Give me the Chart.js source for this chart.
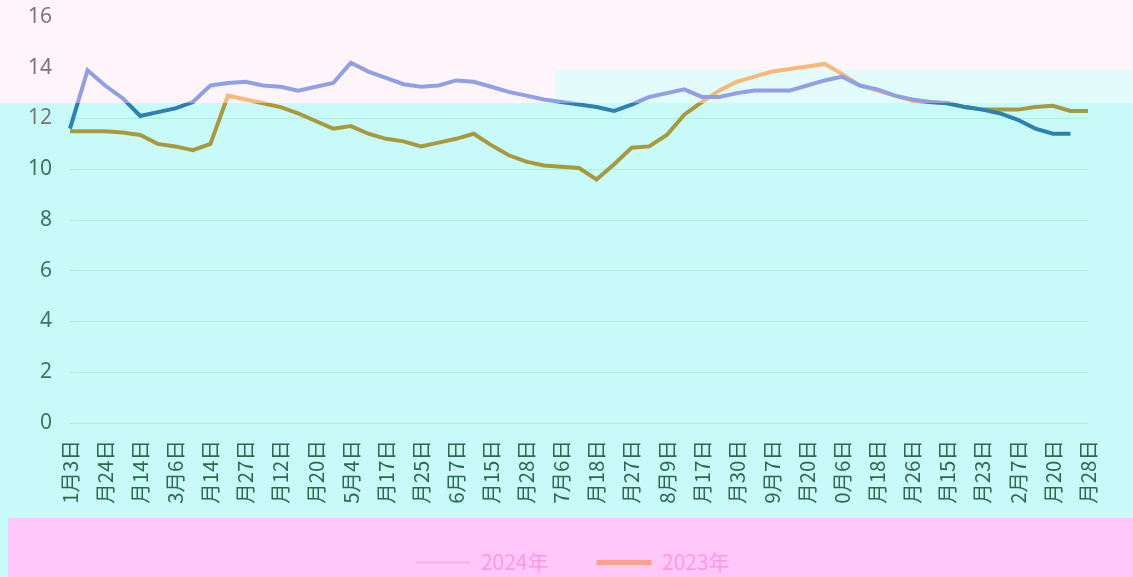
<!DOCTYPE html>
<html><head><meta charset="utf-8">
<script src="https://cdn.jsdelivr.net/npm/chart.js@4.4.1/dist/chart.umd.min.js"></script>
<style>html,body{margin:0;padding:0;background:#c8fafa;overflow:hidden;}</style>
</head><body>
<canvas id="c" width="1133" height="577"></canvas>
<script>
// ---- data ----
const categories = [
 '1月3日','1月10日','1月24日','2月7日','2月14日','2月28日','3月6日','3月10日','3月14日','3月20日',
 '3月27日','4月3日','4月12日','4月16日','4月20日','4月27日','5月4日','5月10日','5月17日','5月21日',
 '5月25日','5月31日','6月7日','6月11日','6月15日','6月21日','6月28日','7月2日','7月6日','7月12日',
 '7月18日','7月22日','7月27日','8月2日','8月9日','8月13日','8月17日','8月24日','8月30日','9月3日',
 '9月7日','9月13日','9月20日','9月27日','10月6日','10月12日','10月18日','10月22日','10月26日','11月2日',
 '11月15日','11月19日','11月23日','11月30日','12月7日','12月13日','12月20日','12月24日','12月28日'
];
const values2024 = [
 11.6,13.9,13.3,12.8,12.1,12.25,12.4,12.65,13.3,13.4,
 13.45,13.3,13.25,13.1,13.25,13.4,14.2,13.85,13.6,13.35,
 13.25,13.3,13.5,13.45,13.25,13.05,12.9,12.75,12.65,12.55,
 12.45,12.3,12.55,12.85,13.0,13.15,12.85,12.85,13.0,13.1,
 13.1,13.1,13.3,13.5,13.65,13.3,13.15,12.9,12.75,12.65,
 12.6,12.45,12.35,12.2,11.95,11.6,11.4,11.4,null
];
const values2023 = [
 11.5,11.5,11.5,11.45,11.35,11.0,10.9,10.75,11.0,12.9,
 12.75,12.6,12.45,12.2,11.9,11.6,11.7,11.4,11.2,11.1,
 10.9,11.05,11.2,11.4,10.95,10.55,10.3,10.15,10.1,10.05,
 9.6,10.2,10.85,10.9,11.35,12.15,12.65,13.1,13.45,13.65,
 13.85,13.95,14.05,14.15,13.75,13.3,13.1,12.9,12.7,12.65,
 12.6,12.45,12.35,12.35,12.35,12.45,12.5,12.3,12.3
];
const seriesNames = ['2024年','2023年'];
const yMin = 0, yMax = 16, yStep = 2;

// ---- styling helpers ----
function bandGradient(chart, upper, lower){
  const g = chart.ctx.createLinearGradient(0,0,0,577);
  const s = 103/577;
  g.addColorStop(0, upper); g.addColorStop(s, upper);
  g.addColorStop(s, lower); g.addColorStop(1, lower);
  return g;
}
const legendColors = ['#f2b0f2','#ffa08c'];

const bands = {
  id:'bands',
  beforeDraw(chart){
    const c = chart.ctx; c.save();
    c.fillStyle = '#c8fafa'; c.fillRect(0,0,1133,577);
    c.fillStyle = '#fff5fa'; c.fillRect(0,0,555,103); c.fillRect(555,0,578,70);
    c.fillStyle = '#e2fcfb'; c.fillRect(555,70,578,33);
    c.restore();
  },
  afterDraw(chart){
    const c = chart.ctx; c.save();
    c.fillStyle = '#ffc8f8'; c.fillRect(8,518,1125,59);
    c.restore();
    chart.legend.draw();
  }
};

new Chart(document.getElementById('c'), {
  type:'line',
  data:{
    labels: categories,
    datasets:[
      {label:seriesNames[0], data:values2024, borderWidth:4, pointRadius:0, tension:0,
       borderColor: ctx => bandGradient(ctx.chart,'#8fa0e6','#2b82b2')},
      {label:seriesNames[1], data:values2023, borderWidth:4, pointRadius:0, tension:0,
       borderColor: ctx => bandGradient(ctx.chart,'#f8b878','#a89a3c')}
    ]
  },
  plugins:[bands],
  options:{
    responsive:false, animation:false, devicePixelRatio:1,
    layout:{padding:{top:17,right:0,left:12,bottom:-6}},
    plugins:{
      tooltip:{enabled:false},
      legend:{
        position:'bottom',
        labels:{
          usePointStyle:true, pointStyleWidth:55, padding:48,
          color:'#ff98e2', font:{family:'"Noto Sans CJK SC", sans-serif', size:21},
          generateLabels: chart => chart.data.datasets.map((d,i)=>({
            text:d.label, fillStyle:legendColors[i], strokeStyle:legendColors[i],
            lineWidth: i===0?2:5, pointStyle:'line', hidden:false, datasetIndex:i, fontColor:'#ff98e2'
          }))
        }
      }
    },
    scales:{
      x:{
        offset:false,
        grid:{display:false, drawTicks:false},
        border:{display:false},
        ticks:{
          autoSkip:false, maxRotation:90, minRotation:90, padding:17,
          color:'#2c6a4e', font:{family:'"Noto Sans CJK SC", sans-serif', size:20.5},
          callback:(v,i)=> i%2===0 ? categories[i] : ''
        },
        afterFit: s => { s.height = 81; s.paddingLeft = 0; s.paddingRight = 45; }
      },
      y:{
        min:yMin, max:yMax,
        grid:{drawTicks:false, color: ctx => ctx.tick && ctx.tick.value>=14 ? 'rgba(0,0,0,0)' : '#a8f2da'},
        border:{display:false},
        ticks:{
          stepSize:yStep, padding:18,
          color: ctx => ctx.tick && ctx.tick.value>=12 ? '#767676' : '#3b7460',
          font:{family:'"Noto Sans", sans-serif', size:21}
        },
        afterFit: s => { s.width = 58; s.paddingTop = 0; s.paddingBottom = 0; }
      }
    }
  }
});
</script>
</body></html>
